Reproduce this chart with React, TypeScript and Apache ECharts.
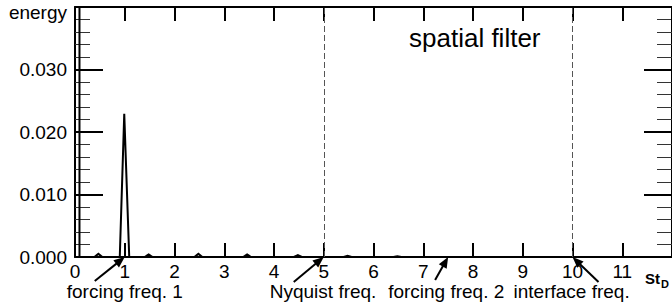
import React, { useEffect, useRef } from "react";
import * as echarts from "echarts";

// ---- data ----
const freq = [0.09, 0.09, 0.39, 0.47, 0.55, 0.9, 0.99, 1.09, 1.4, 1.48, 1.56, 2.4, 2.48, 2.56, 3.38, 3.46, 3.54, 4.4, 4.48, 4.56, 5.4, 5.48, 5.56, 6.4, 6.48, 6.56, 12];
const energy = [0.2, 0, 0, 0.0005, 0, 0, 0.0229, 0, 0, 0.0004, 0, 0, 0.0005, 0, 0, 0.0004, 0, 0, 0.0003, 0, 0, 0.0002, 0, 0, 0.0001, 0, 0];
const dashedFreqs = [5, 10];
const annotationLabels = ["forcing freq. 1", "Nyquist freq.", "forcing freq. 2", "interface freq."];
const annotationFreqs = [1, 5, 7.5, 10];
const xMin = 0;
const xMax = 12;
const yMin = 0;
const yMax = 0.04;
const yStep = 0.01;

// ---- layout (pixels) ----
const FONT = '"Liberation Sans", Arial, Helvetica, sans-serif';
const labelOffsetX = [-58, -54, -60, -59];
const tailOffsets = [
  [-30, 24],
  [-30, 25],
  [-13, 23],
  [26, 25],
];

export default function App() {
  const ref = useRef<HTMLDivElement>(null);

  useEffect(() => {
    document.body.style.margin = "0";
    const chart = echarts.init(ref.current!, null, { renderer: "svg" });
    const points = freq.map((f, i) => [f, energy[i]]);

    const axisLineStyle = { color: "#000", width: 2 };
    const majorTick = (len: number) => ({
      show: true,
      inside: true,
      length: len,
      interval: 0,
      lineStyle: { color: "#000", width: 2 },
    });
    const minorTick = { show: true, splitNumber: 5, length: 15, lineStyle: { color: "#333", width: 1 } };
    chart.setOption({
      animation: false,
      backgroundColor: "#fff",
      textStyle: { fontFamily: FONT },
      grid: { left: 75, top: 7, width: 601, height: 250, show: false },
      xAxis: [
        {
          type: "value",
          position: "bottom",
          min: xMin,
          max: xMax,
          interval: 1,
          axisLine: { show: true, onZero: false, lineStyle: axisLineStyle },
          axisTick: majorTick(14),
          axisLabel: {
            show: true,
            margin: 6,
            color: "#000",
            fontSize: 19,
            lineHeight: 16,
            fontFamily: FONT,
            showMaxLabel: false,
            formatter: (v: number) => String(v),
          },
          splitLine: { show: false },
        },
        {
          type: "value",
          position: "top",
          min: xMin,
          max: xMax,
          interval: 1,
          axisLine: { show: true, onZero: false, lineStyle: axisLineStyle },
          axisTick: majorTick(14),
          axisLabel: { show: false },
          splitLine: { show: false },
        },
      ],
      yAxis: [
        {
          type: "value",
          position: "left",
          min: yMin,
          max: yMax,
          interval: yStep,
          axisLine: { show: true, onZero: false, lineStyle: axisLineStyle },
          axisTick: majorTick(28),
          minorTick,
          axisLabel: {
            show: true,
            margin: 8,
            color: "#000",
            fontSize: 19,
            fontFamily: FONT,
            showMaxLabel: false,
            formatter: (v: number) => v.toFixed(3),
          },
          splitLine: { show: false },
        },
        {
          type: "value",
          position: "right",
          min: yMin,
          max: yMax,
          interval: yStep,
          axisLine: { show: true, onZero: false, lineStyle: axisLineStyle },
          axisTick: majorTick(28),
          minorTick,
          axisLabel: { show: false },
          splitLine: { show: false },
        },
      ],
      series: [
        {
          type: "line",
          xAxisIndex: 0,
          yAxisIndex: 0,
          data: points,
          showSymbol: false,
          symbol: "none",
          clip: true,
          silent: true,
          lineStyle: { color: "#000", width: 2, join: "miter" },
          markLine: {
            silent: true,
            symbol: "none",
            label: { show: false },
            lineStyle: { color: "#555", width: 1, type: [6, 3] },
            data: dashedFreqs.map((f) => ({ xAxis: f })),
          },
        },
      ],
    });

    const graphics: any[] = [];
    annotationFreqs.forEach((f, i) => {
      const tip = chart.convertToPixel({ xAxisIndex: 0, yAxisIndex: 0 }, [f, 0]) as number[];
      const tail = [tip[0] + tailOffsets[i][0], tip[1] + tailOffsets[i][1]];
      const dx = tip[0] - tail[0];
      const dy = tip[1] - tail[1];
      const len = Math.hypot(dx, dy);
      const ux = dx / len;
      const uy = dy / len;
      const headLen = 11;
      const headHalf = 4.5;
      const bx = tip[0] - ux * headLen;
      const by = tip[1] - uy * headLen;
      graphics.push({
        type: "line",
        silent: true,
        shape: { x1: tail[0], y1: tail[1], x2: bx + ux * 2, y2: by + uy * 2 },
        style: { stroke: "#000", lineWidth: 2 },
      });
      graphics.push({
        type: "polygon",
        silent: true,
        shape: {
          points: [
            [tip[0], tip[1]],
            [bx - uy * headHalf, by + ux * headHalf],
            [bx + uy * headHalf, by - ux * headHalf],
          ],
        },
        style: { fill: "#000" },
      });
      graphics.push({
        type: "text",
        silent: true,
        x: tip[0] + labelOffsetX[i],
        y: 291,
        style: {
          text: annotationLabels[i],
          fontSize: 19,
          lineHeight: 15,
          fontFamily: FONT,
          fill: "#000",
          align: "left",
          verticalAlign: "middle",
        },
      });
    });

    graphics.push({
      type: "text",
      silent: true,
      x: 67,
      y: 12,
      style: { text: "energy", fontSize: 19, fontFamily: FONT, fill: "#000", align: "right", verticalAlign: "middle" },
    });
    graphics.push({
      type: "text",
      silent: true,
      x: 409,
      y: 38,
      style: { text: "spatial filter", fontSize: 26, fontFamily: FONT, fill: "#000", align: "left", verticalAlign: "middle" },
    });
    graphics.push({
      type: "text",
      silent: true,
      x: 645,
      y: 278,
      style: { text: "St", fontSize: 15, fontWeight: "bold", fontFamily: FONT, fill: "#000", align: "left", verticalAlign: "middle" },
    });
    graphics.push({
      type: "text",
      silent: true,
      x: 661,
      y: 284,
      style: { text: "D", fontSize: 11, fontWeight: "bold", fontFamily: FONT, fill: "#000", align: "left", verticalAlign: "middle" },
    });

    chart.setOption({ graphic: graphics });

    return () => chart.dispose();
  }, []);

  return <div ref={ref} style={{ position: "absolute", left: 0, top: 0, width: 672, height: 306 }} />;
}
